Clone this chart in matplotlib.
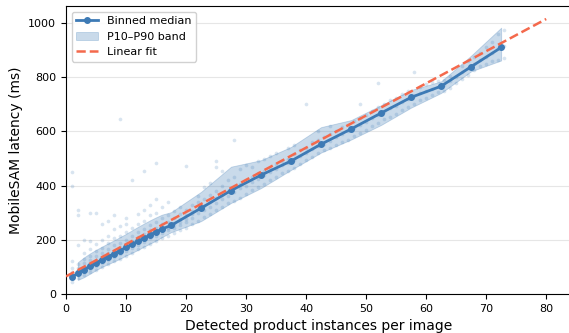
import matplotlib
matplotlib.use("Agg")
import matplotlib.pyplot as plt

# Binned median latency per instance-count bin
median_x = [1, 2, 3, 4, 5, 6, 7, 8, 9, 10, 11, 12, 13, 14, 15, 16,
            17.5, 22.5, 27.5, 32.5, 37.5, 42.5, 47.5, 52.5, 57.5, 62.5, 67.5, 72.5]
median_y = [62, 78, 90, 103, 115, 126, 138, 148, 160, 172, 183, 195, 206, 218, 229, 240,
            253, 317, 382, 439, 491, 553, 609, 668, 726, 767, 839, 910]

# P10 / P90 band
band_x = [2, 3, 4, 5, 6, 7, 8, 9, 10, 11, 12, 13, 14, 15, 16,
          17.5, 22.5, 27.5, 32.5, 37.5, 42.5, 47.5, 52.5, 57.5, 62.5, 67.5, 72.5]
band_lo = [52, 62, 75, 88, 100, 110, 120, 130, 142, 152, 163, 175, 186, 197, 210,
           228, 269, 336, 391, 458, 522, 570, 624, 688, 742, 822, 862]
band_hi = [118, 135, 150, 163, 175, 187, 198, 210, 222, 235, 248, 260, 272, 283, 293,
           302, 377, 470, 494, 543, 616, 642, 697, 753, 785, 880, 983]

# Linear fit endpoints
fit_x = [0, 80]
fit_y = [65, 1015]

# Raw per-image measurements (count -> latencies)
scatter_counts = list(range(1, 74))
scatter_latency = [
    [45, 55, 62, 70, 80, 95, 120, 400, 450],
    [60, 70, 78, 85, 95, 110, 180, 290, 310],
    [70, 80, 88, 92, 100, 115, 130, 150, 200],
    [80, 92, 100, 105, 112, 125, 140, 165, 195, 300],
    [90, 105, 112, 118, 125, 140, 160, 185, 300],
    [100, 115, 122, 130, 138, 150, 170, 200, 260],
    [110, 125, 135, 140, 150, 165, 190, 215, 270],
    [120, 135, 145, 152, 160, 180, 205, 240, 290],
    [130, 148, 157, 163, 172, 190, 215, 250, 645],
    [140, 158, 168, 175, 185, 200, 230, 260, 280],
    [150, 170, 180, 187, 197, 215, 245, 420],
    [165, 182, 192, 198, 210, 228, 260, 295],
    [175, 192, 203, 210, 222, 240, 270, 310, 455],
    [185, 205, 215, 222, 235, 255, 290, 330],
    [195, 215, 226, 233, 245, 265, 300, 350, 485],
    [205, 225, 237, 245, 258, 280, 320],
    [215, 235, 245, 252, 265, 290, 340],
    [225, 245, 255, 262, 280, 305],
    [235, 255, 265, 275, 295, 320],
    [245, 265, 278, 290, 310, 472],
    [260, 280, 295, 305, 330],
    [270, 300, 315, 340, 360],
    [285, 310, 325, 350, 395],
    [295, 320, 340, 365, 410],
    [310, 335, 355, 380, 470, 490],
    [320, 350, 365, 400, 455],
    [335, 360, 380, 420],
    [345, 375, 390, 430, 568],
    [355, 390, 405, 460],
    [370, 400, 420, 475],
    [385, 415, 430, 470],
    [395, 425, 445, 490],
    [405, 440, 455, 500],
    [420, 450, 465, 510],
    [430, 462, 480, 520],
    [445, 475, 490],
    [455, 485, 500, 540],
    [465, 495, 515, 550],
    [480, 510, 530],
    [495, 520, 540, 701],
    [505, 535, 560],
    [520, 545, 570, 600],
    [530, 555, 580],
    [540, 565, 590, 620],
    [550, 578, 600],
    [560, 590, 615],
    [570, 600, 625],
    [585, 612, 640],
    [595, 622, 650, 700],
    [605, 635, 660],
    [620, 648, 675],
    [630, 660, 690, 778],
    [645, 672, 700],
    [655, 685, 715],
    [665, 695, 725],
    [680, 708, 740],
    [690, 720, 750],
    [700, 732, 819],
    [715, 742, 765],
    [725, 750, 775],
    [735, 758, 782],
    [745, 765, 785],
    [750, 772, 790],
    [760, 788, 805],
    [780, 800],
    [795, 818, 840],
    [810, 835, 860],
    [825, 848, 875],
    [840, 862, 890],
    [850, 876, 910],
    [860, 890, 930],
    [865, 908, 960],
    [870, 915, 975],
]

pts_x = []
pts_y = []
for c, ys in zip(scatter_counts, scatter_latency):
    for y in ys:
        pts_x.append(c)
        pts_y.append(y)

blue = "#3d7ab5"
fig = plt.figure(figsize=(5.69, 3.33), dpi=100)
ax = fig.add_axes([66 / 569, 39 / 333, 506 / 569, 288 / 333])

ax.scatter(pts_x, pts_y, s=7, color=blue, alpha=0.2, linewidths=0, zorder=1)
band = ax.fill_between(band_x, band_lo, band_hi, facecolor=blue, alpha=0.28,
                       edgecolor=blue, lw=0.6, zorder=2)
med, = ax.plot(median_x, median_y, "-o", color=blue, lw=2, ms=4, zorder=3)
fit, = ax.plot(fit_x, fit_y, "--", color="#f4694c", lw=1.8, zorder=4)

ax.set_xlim(0, 84.3)
ax.set_ylim(0, 1063)
ax.set_xticks(range(0, 90, 10))
ax.set_yticks(range(0, 1200, 200))
ax.grid(axis="y", color="#e6e6e6", lw=0.8)
ax.set_axisbelow(True)
ax.tick_params(labelsize=8)
ax.set_xlabel("Detected product instances per image", fontsize=10)
ax.set_ylabel("MobileSAM latency (ms)", fontsize=10)
ax.legend([med, band, fit], ["Binned median", "P10\u2013P90 band", "Linear fit"],
          loc="upper left", fontsize=8, framealpha=0.9)

plt.savefig("out.png", dpi=100)
